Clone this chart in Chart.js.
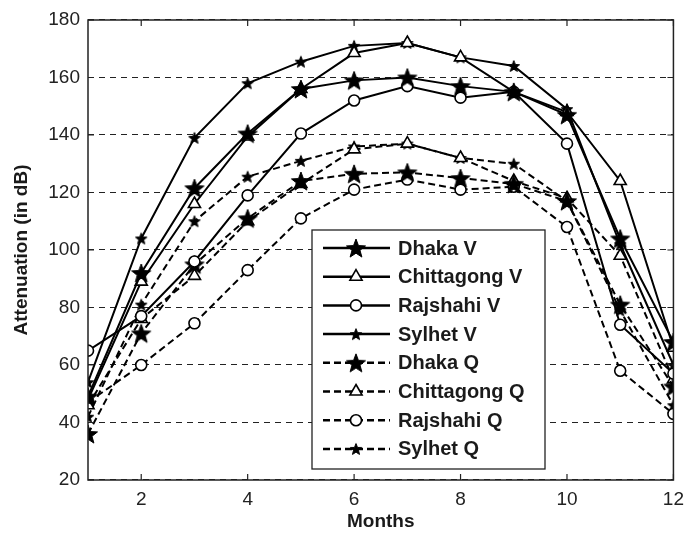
<!doctype html>
<html>
<head>
<meta charset="utf-8">
<title>Attenuation</title>
<script src="https://cdn.jsdelivr.net/npm/chart.js@4.4.1/dist/chart.umd.min.js"></script>
<style>
  html, body { margin: 0; padding: 0; background: #fff; }
  #wrap { width: 692px; height: 533px; }
</style>
</head>
<body>
<div id="wrap"><canvas id="chart" width="692" height="533"></canvas></div>
<script>
// values (attenuation in dB per month)
var months = [1, 2, 3, 4, 5, 6, 7, 8, 9, 10, 11, 12];
var xTicks = [2, 4, 6, 8, 10, 12];
var yTicks = [20, 40, 60, 80, 100, 120, 140, 160, 180];

var dhakaV      = [49, 92, 121.5, 140.5, 156, 159, 160, 157, 155, 147, 104, 68];
var chittagongV = [48, 89, 116, 139.5, 156, 168.5, 172, 167, 155, 148, 124, 66];
var rajshahiV   = [65, 77, 96, 119, 140.5, 152, 157, 153, 155, 137, 74, 57];
var sylhetV     = [54, 104, 139, 158, 165.5, 171, 172, 167, 164, 149, 102, 60];
var dhakaQ      = [36, 71, 95, 111, 124, 126.5, 127, 125, 123, 117, 81, 52.5];
var chittagongQ = [46, 76, 91, 110, 123, 135, 137, 132, 124, 118, 98, 55];
var rajshahiQ   = [47, 60, 74.5, 93, 111, 121, 124.5, 121, 122, 108, 58, 43];
var sylhetQ     = [42, 81, 110, 125.5, 131, 136, 137, 132, 130, 117, 79, 46];

var FONT = "'Liberation Sans', Arial, sans-serif";

// filled five point star drawn once and used as a point image
function starImage(outer, inner) {
    var size = Math.ceil(outer * 2 + 2);
    var c = document.createElement('canvas');
    c.width = size; c.height = size;
    var g = c.getContext('2d');
    g.translate(size / 2, size / 2 + outer * 0.1);
    g.beginPath();
    for (var i = 0; i < 10; i++) {
        var r = i % 2 === 0 ? outer : inner;
        var a = -Math.PI / 2 + i * Math.PI / 5;
        g.lineTo(r * Math.cos(a), r * Math.sin(a));
    }
    g.closePath();
    g.fillStyle = '#000';
    g.fill();
    g.strokeStyle = '#000';
    g.lineWidth = 1;
    g.stroke();
    return c;
}
var bigStar = starImage(10, 4.2);
var smallStar = starImage(6, 2.6);

function series(label, data, marker, dashed) {
    var ds = {
        label: label,
        data: months.map(function (m, i) { return {x: m, y: data[i]}; }),
        borderColor: '#000',
        borderWidth: 2,
        borderDash: dashed ? [7, 4] : [],
        pointBorderColor: '#000',
        pointBorderWidth: 1.6,
        pointBackgroundColor: '#fff',
        tension: 0
    };
    if (marker === 'bigstar') { ds.pointStyle = bigStar; ds.pointRadius = 10; }
    if (marker === 'smallstar') { ds.pointStyle = smallStar; ds.pointRadius = 6; }
    if (marker === 'triangle') { ds.pointStyle = 'triangle'; ds.pointRadius = 7; }
    if (marker === 'circle') { ds.pointStyle = 'circle'; ds.pointRadius = 5.5; }
    ds.marker = marker;
    return ds;
}

var datasets = [
    series('Dhaka V', dhakaV, 'bigstar', false),
    series('Chittagong V', chittagongV, 'triangle', false),
    series('Rajshahi V', rajshahiV, 'circle', false),
    series('Sylhet V', sylhetV, 'smallstar', false),
    series('Dhaka Q', dhakaQ, 'bigstar', true),
    series('Chittagong Q', chittagongQ, 'triangle', true),
    series('Rajshahi Q', rajshahiQ, 'circle', true),
    series('Sylhet Q', sylhetQ, 'smallstar', true)
];

function drawMarker(ctx, marker, x, y) {
    ctx.save();
    ctx.setLineDash([]);
    ctx.lineWidth = 1.6;
    ctx.strokeStyle = '#000';
    ctx.fillStyle = '#fff';
    if (marker === 'bigstar') {
        ctx.drawImage(bigStar, x - bigStar.width / 2, y - bigStar.height / 2);
    } else if (marker === 'smallstar') {
        ctx.drawImage(smallStar, x - smallStar.width / 2, y - smallStar.height / 2);
    } else if (marker === 'triangle') {
        var r = 7;
        ctx.beginPath();
        ctx.moveTo(x, y - r);
        ctx.lineTo(x + r * 0.866, y + r * 0.5);
        ctx.lineTo(x - r * 0.866, y + r * 0.5);
        ctx.closePath();
        ctx.fill(); ctx.stroke();
    } else {
        ctx.beginPath();
        ctx.arc(x, y, 5.5, 0, Math.PI * 2);
        ctx.fill(); ctx.stroke();
    }
    ctx.restore();
}

// box, inward ticks and the legend inside the plot (MATLAB look)
var framePlugin = {
    id: 'frame',
    afterDatasetsDraw: function (chart) {
        var ctx = chart.ctx, a = chart.chartArea;
        var xs = chart.scales.x, ys = chart.scales.y;
        ctx.save();
        ctx.strokeStyle = '#222';
        ctx.lineWidth = 1.5;
        ctx.strokeRect(a.left, a.top, a.right - a.left, a.bottom - a.top);
        ctx.lineWidth = 1.2;
        ctx.beginPath();
        xs.ticks.forEach(function (t) {
            var px = xs.getPixelForValue(t.value);
            ctx.moveTo(px, a.bottom); ctx.lineTo(px, a.bottom - 6);
            ctx.moveTo(px, a.top); ctx.lineTo(px, a.top + 6);
        });
        ys.ticks.forEach(function (t) {
            var py = ys.getPixelForValue(t.value);
            ctx.moveTo(a.left, py); ctx.lineTo(a.left + 6, py);
            ctx.moveTo(a.right, py); ctx.lineTo(a.right - 6, py);
        });
        ctx.stroke();

        // legend
        var bx = 312, by = 230, bw = 233, bh = 239;
        ctx.fillStyle = '#fff';
        ctx.fillRect(bx, by, bw, bh);
        ctx.strokeStyle = '#222';
        ctx.lineWidth = 1.3;
        ctx.strokeRect(bx, by, bw, bh);
        ctx.font = 'bold 20px ' + FONT;
        ctx.textBaseline = 'middle';
        ctx.textAlign = 'left';
        chart.data.datasets.forEach(function (ds, i) {
            var y = by + 18 + i * 28.7;
            ctx.strokeStyle = '#000';
            ctx.lineWidth = 2.5;
            ctx.setLineDash(ds.borderDash);
            ctx.beginPath();
            ctx.moveTo(bx + 11, y); ctx.lineTo(bx + 78, y);
            ctx.stroke();
            ctx.setLineDash([]);
            drawMarker(ctx, ds.marker, bx + 44, y);
            ctx.fillStyle = '#1a1a1a';
            ctx.fillText(ds.label, bx + 86, y + 1);
        });
        ctx.restore();
    }
};

new Chart(document.getElementById('chart'), {
    type: 'line',
    data: { datasets: datasets },
    options: {
        responsive: false,
        animation: false,
        layout: { padding: { top: 20, right: 12, left: 0, bottom: 0 } },
        plugins: { legend: { display: false }, tooltip: { enabled: false } },
        elements: { line: { fill: false } },
        scales: {
            x: {
                type: 'linear',
                min: 1, max: 12,
                afterBuildTicks: function (s) { s.ticks = xTicks.map(function (v) { return {value: v}; }); },
                afterFit: function (s) { s.height = 53; },
                grid: { display: false, drawTicks: false },
                border: { display: false },
                ticks: { color: '#222', padding: 8, font: { family: FONT, size: 19 }, maxRotation: 0 },
                title: {
                    display: true, text: 'Months', color: '#1a1a1a',
                    font: { family: FONT, size: 19, weight: 'bold' },
                    padding: { top: 0, bottom: 0 }
                }
            },
            y: {
                min: 20, max: 180,
                afterBuildTicks: function (s) { s.ticks = yTicks.map(function (v) { return {value: v}; }); },
                afterFit: function (s) { s.width = 88; },
                grid: { color: '#222', lineWidth: 1.1, drawTicks: false },
                border: { display: false, dash: [6, 5] },
                ticks: { color: '#222', padding: 8, font: { family: FONT, size: 19 } },
                title: {
                    display: true, text: 'Attenuation (in dB)', color: '#1a1a1a',
                    font: { family: FONT, size: 19, weight: 'bold' },
                    padding: { top: 10, bottom: 0 }
                }
            }
        }
    },
    plugins: [framePlugin]
});
</script>
</body>
</html>
